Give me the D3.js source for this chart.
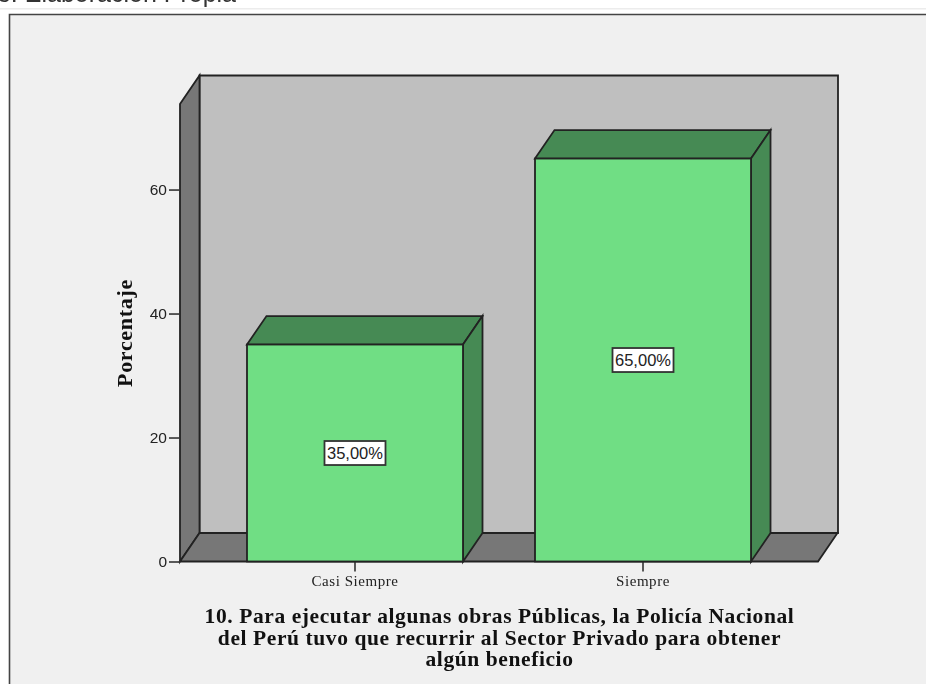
<!DOCTYPE html>
<html>
<head>
<meta charset="utf-8">
<style>
html,body{margin:0;padding:0;background:#fff;overflow:hidden}
svg{display:block;filter:blur(0.35px)}
</style>
<script src="https://cdn.jsdelivr.net/npm/d3@7"></script>
</head>
<body>
<svg id="chart" width="926" height="684"></svg>
<script>
const categories = ["Casi Siempre", "Siempre"];
const percentages = [35, 65];
const valueLabels = ["35,00%", "65,00%"];
const yTicks = [0, 20, 40, 60];
const yAxisTitle = "Porcentaje";
const titleLines = [
  "10. Para ejecutar algunas obras Públicas, la Policía Nacional",
  "del Perú tuvo que recurrir al Sector Privado para obtener",
  "algún beneficio"
];
const captionText = "Fuente: Elaboración Propia";

const svg = d3.select("#chart");
const ink = "#222";
const depthX = 19.5, depthY = 28.5;
const xLeft = 180, xRight = 818;

const y = d3.scaleLinear().domain([0, 73.8]).range([561.5, 104]);
const x = d3.scaleBand().domain(categories).range([xLeft, xRight])
  .paddingInner(0.25).paddingOuter(0.2326);

const serif = "'Liberation Serif','Times New Roman',serif";
const sans = "'Liberation Sans',Arial,sans-serif";

// cropped caption above the frame
svg.append("text").attr("x", 236).attr("y", 1.5).attr("text-anchor", "end")
  .attr("font-family", sans).attr("font-size", 25).attr("fill", "#333").text(captionText);
svg.append("rect").attr("x", 0).attr("y", 8).attr("width", 926).attr("height", 1.5).attr("fill", "#ececec");

// frame
svg.append("rect").attr("x", 9).attr("y", 14).attr("width", 917).attr("height", 670).attr("fill", "#f0f0f0");
svg.append("path").attr("d", "M9.5,684V14.5H926").attr("fill", "none").attr("stroke", "#444").attr("stroke-width", 1.6);

const poly = pts => d3.line()(pts) + "Z";
const y0 = y(0), yTop = y.range()[1];

// back wall, left wall, floor
svg.append("path").attr("d", poly([[xLeft + depthX, yTop - depthY], [xRight + depthX + .5, yTop - depthY], [xRight + depthX + .5, y0 - depthY], [xLeft + depthX, y0 - depthY]]))
  .attr("fill", "#bfbfbf").attr("stroke", ink).attr("stroke-width", 1.8);
svg.append("path").attr("d", poly([[xLeft, yTop], [xLeft + depthX, yTop - depthY], [xLeft + depthX, y0 - depthY], [xLeft, y0]]))
  .attr("fill", "#777").attr("stroke", ink).attr("stroke-width", 1.8);
svg.append("path").attr("d", poly([[xLeft, y0], [xLeft + depthX, y0 - depthY], [xRight + depthX, y0 - depthY], [xRight, y0]]))
  .attr("fill", "#777").attr("stroke", ink).attr("stroke-width", 1.8);

// axes
const yAxis = d3.axisLeft(y).tickValues(yTicks).tickSize(11).tickPadding(2);
const gy = svg.append("g").attr("transform", `translate(${xLeft},0)`).call(yAxis);
gy.select(".domain").remove();
gy.selectAll("line").attr("stroke", "#333").attr("stroke-width", 1.6);
gy.selectAll("text").attr("font-family", sans).attr("font-size", 15.5).attr("fill", "#222");

const xAxis = d3.axisBottom(x).tickSize(10).tickPadding(4);
const gx = svg.append("g").attr("transform", `translate(0,${y0})`).call(xAxis);
gx.select(".domain").remove();
gx.selectAll("line").attr("stroke", "#333").attr("stroke-width", 1.6);
gx.selectAll("text").attr("font-family", serif).attr("font-size", 15).attr("letter-spacing", 0.55).attr("fill", "#222");

// bars
const rows = categories.map((c, i) => ({c, v: percentages[i], label: valueLabels[i]}));
const bar = svg.append("g").selectAll("g").data(rows).join("g");
const line = {stroke: ink, width: 1.8};
bar.append("path").attr("d", d => {
  const l = x(d.c), r = l + x.bandwidth(), t = y(d.v);
  return poly([[l, t], [l + depthX, t - depthY], [r + depthX, t - depthY], [r, t]]);
}).attr("fill", "#468a54").attr("stroke", line.stroke).attr("stroke-width", line.width);
bar.append("path").attr("d", d => {
  const r = x(d.c) + x.bandwidth(), t = y(d.v);
  return poly([[r, t], [r + depthX, t - depthY], [r + depthX, y0 - depthY], [r, y0]]);
}).attr("fill", "#468a54").attr("stroke", line.stroke).attr("stroke-width", line.width);
bar.append("rect")
  .attr("x", d => x(d.c)).attr("y", d => y(d.v))
  .attr("width", x.bandwidth()).attr("height", d => y0 - y(d.v))
  .attr("fill", "#70de84").attr("stroke", line.stroke).attr("stroke-width", line.width);

// value labels
const cx = d => x(d.c) + x.bandwidth() / 2;
const cy = d => (y(d.v) + y0) / 2;
bar.append("rect")
  .attr("x", d => cx(d) - 30.5).attr("y", d => cy(d) - 12)
  .attr("width", 61).attr("height", 24)
  .attr("fill", "#fff").attr("stroke", "#333").attr("stroke-width", 1.8);
bar.append("text").attr("x", cx).attr("y", d => cy(d) + 6).attr("text-anchor", "middle")
  .attr("font-family", sans).attr("font-size", 16.5).attr("fill", "#222").text(d => d.label);

// axis title
svg.append("text").attr("transform", "translate(132,333) rotate(-90)").attr("text-anchor", "middle")
  .attr("font-family", serif).attr("font-weight", "bold").attr("font-size", 22).attr("letter-spacing", 0.7).attr("fill", "#111")
  .text(yAxisTitle);

// x title
svg.append("g").selectAll("text").data(titleLines).join("text")
  .attr("x", 499.5).attr("y", (d, i) => 623 + i * 21.5).attr("text-anchor", "middle")
  .attr("font-family", serif).attr("font-weight", "bold").attr("font-size", 21.5).attr("letter-spacing", 0.59).attr("fill", "#111")
  .text(d => d);
</script>
</body>
</html>
